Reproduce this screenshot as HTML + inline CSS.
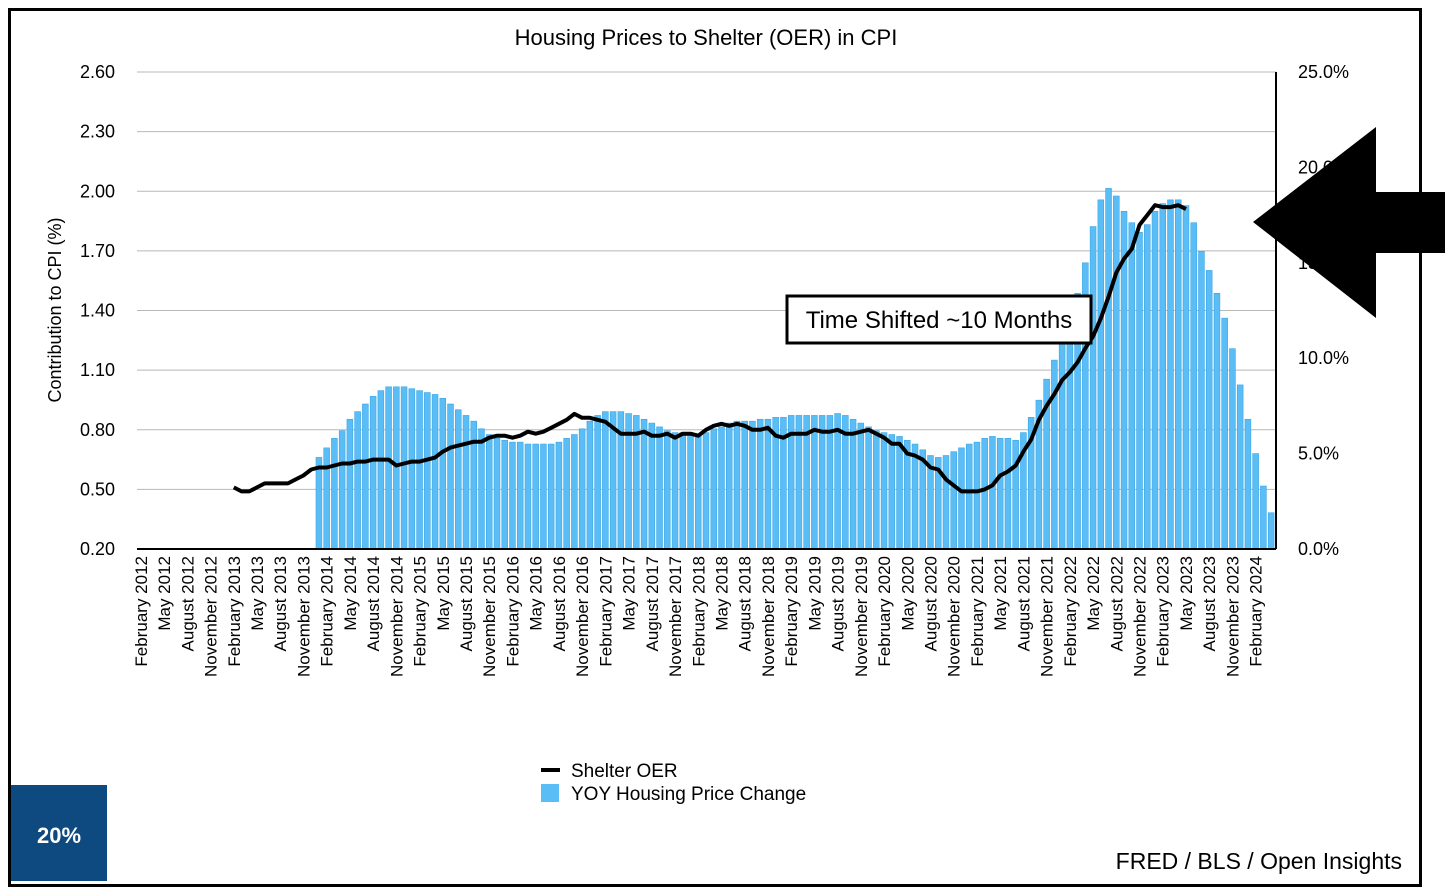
<!DOCTYPE html>
<html><head><meta charset="utf-8"><style>
html,body{margin:0;padding:0;background:#fff;}
svg{display:block;font-family:"Liberation Sans",Arial,sans-serif;}
</style></head><body>
<svg id="chart" width="1456" height="893" viewBox="0 0 1456 893" xmlns="http://www.w3.org/2000/svg">
<rect x="9.5" y="9.5" width="1411" height="876" fill="#fff" stroke="#000" stroke-width="3"/>
<text x="706" y="45" font-size="22" text-anchor="middle">Housing Prices to Shelter (OER) in CPI</text>
<g id="grid"></g>
<g id="bars"></g>
<g id="line"></g>
<g id="axes"></g>
<text transform="translate(61,310) rotate(-90)" font-size="18" text-anchor="middle">Contribution to CPI (%)</text>
<g>
<rect x="787" y="296" width="304" height="47" fill="#fff" stroke="#000" stroke-width="3"/>
<text x="939" y="328" font-size="24" text-anchor="middle">Time Shifted ~10 Months</text>
</g>
<polygon points="1253,222 1376,127 1376,192 1445,192 1445,253 1376,253 1376,318" fill="#000"/>
<g>
<line x1="541" y1="770" x2="560" y2="770" stroke="#000" stroke-width="4"/>
<text x="571" y="777" font-size="19">Shelter OER</text>
<rect x="541" y="784" width="18" height="18" fill="#5bbdf5"/>
<text x="571" y="800" font-size="19">YOY Housing Price Change</text>
</g>
<rect x="11" y="785" width="96" height="96" fill="#0e4a7f"/>
<text x="59" y="843" font-size="22" font-weight="bold" fill="#fff" text-anchor="middle">20%</text>
<text x="1402" y="869" font-size="23" text-anchor="end">FRED / BLS / Open Insights</text>
</svg>
<script>
const months = ["January","February","March","April","May","June","July","August","September","October","November","December"];
const startMonthIndex = 1; const startYear = 2012; const monthCount = 147;
const leftTicks = [0.20,0.50,0.80,1.10,1.40,1.70,2.00,2.30,2.60];
const rightTicks = [0,5,10,15,20,25];
const barStart = 23;
const barValues = [4.8,5.3,5.8,6.2,6.8,7.2,7.6,8.0,8.3,8.5,8.5,8.5,8.4,
8.3,8.2,8.1,7.9,7.6,7.3,7.0,6.7,6.3,6.0,5.8,5.7,
5.6,5.6,5.5,5.5,5.5,5.5,5.6,5.8,6.0,6.3,6.7,7.0,
7.2,7.2,7.2,7.1,7.0,6.8,6.6,6.4,6.2,6.1,6.1,6.0,
6.0,6.1,6.3,6.4,6.6,6.7,6.7,6.7,6.8,6.8,6.9,6.9,
7.0,7.0,7.0,7.0,7.0,7.0,7.1,7.0,6.8,6.6,6.4,6.2,
6.1,6.0,5.9,5.7,5.5,5.2,4.9,4.8,4.9,5.1,5.3,5.5,
5.6,5.8,5.9,5.8,5.8,5.7,6.1,6.9,7.8,8.9,9.9,11.0,
12.0,13.4,15.0,16.9,18.3,18.9,18.5,17.7,17.1,16.6,17.0,17.7,
18.1,18.3,18.3,18.0,17.1,15.6,14.6,13.4,12.1,10.5,8.6,6.8,5.0,3.3,1.9];
const lineStart = 12;
const lineValues = [0.51,0.49,0.49,0.51,0.53,0.53,0.53,0.53,0.55,0.57,0.60,
0.61,0.61,0.62,0.63,0.63,0.64,0.64,0.65,0.65,0.65,0.62,0.63,0.64,
0.64,0.65,0.66,0.69,0.71,0.72,0.73,0.74,0.74,0.76,0.77,0.77,
0.76,0.77,0.79,0.78,0.79,0.81,0.83,0.85,0.88,0.86,0.86,0.85,
0.84,0.81,0.78,0.78,0.78,0.79,0.77,0.77,0.78,0.76,0.78,0.78,
0.77,0.80,0.82,0.83,0.82,0.83,0.82,0.80,0.80,0.81,0.77,0.76,
0.78,0.78,0.78,0.80,0.79,0.79,0.80,0.78,0.78,0.79,0.80,0.78,
0.76,0.73,0.73,0.68,0.67,0.65,0.61,0.60,0.55,0.52,0.49,0.49,
0.49,0.50,0.52,0.57,0.59,0.62,0.69,0.75,0.85,0.92,0.98,1.05,
1.09,1.14,1.21,1.27,1.36,1.47,1.59,1.66,1.71,1.83,1.88,1.93,
1.92,1.92,1.93,1.91];

const NS="http://www.w3.org/2000/svg";
const X0=137, X1=1275, YT=72, YB=549;
const band=(X1-X0)/monthCount;
const xC=i=>X0+band*(i+0.5);
const yL=v=>YB-(v-0.2)/(2.6-0.2)*(YB-YT);
const yR=v=>YB-v/25*(YB-YT);
function mk(tag,attrs,parent){const e=document.createElementNS(NS,tag);for(const k in attrs)e.setAttribute(k,attrs[k]);parent.appendChild(e);return e;}
const grid=document.getElementById('grid'), axes=document.getElementById('axes');
leftTicks.forEach(t=>{
  const y=yL(t);
  if(t>0.2){const g=mk('line',{x1:X0,x2:X1+1,y1:y,y2:y,stroke:'#b8b8b8','stroke-width':1},grid);
  
  }
  const tx=mk('text',{x:115,y:y+6,'font-size':18,'text-anchor':'end'},axes);
  tx.textContent=t.toFixed(2);
  
  
});
rightTicks.forEach(t=>{
  const tx=mk('text',{x:1298,y:yR(t)+6,'font-size':18},axes);
  tx.textContent=t.toFixed(1)+'%';
  
  
});
const xa=mk('line',{x1:X0,x2:X1+1,y1:YB,y2:YB,stroke:'#000','stroke-width':2},axes);


const ra=mk('line',{x1:X1+1,x2:X1+1,y1:YT,y2:YB,stroke:'#000','stroke-width':2},axes);


for(let i=0;i<monthCount;i+=3){
  const m=(startMonthIndex+i)%12, yr=startYear+Math.floor((startMonthIndex+i)/12);
  const x=xC(i)+6;
  const tx=mk('text',{transform:`translate(${x},556) rotate(-90)`,'font-size':17,'text-anchor':'end'},axes);
  tx.textContent=months[m]+' '+yr;
  
  
}
const bars=document.getElementById('bars');
barValues.forEach((v,k)=>{
  const i=barStart+k, y=yR(v);
  const r=mk('rect',{x:xC(i)-band*0.38,y:y,width:band*0.76,height:YB-y,fill:'#5bbdf5',stroke:'#3aa6e6','stroke-width':0.6},bars);
  
  
});
const pts=lineValues.map((v,k)=>xC(lineStart+k).toFixed(1)+','+yL(v).toFixed(1)).join(' ');
const pl=mk('polyline',{points:pts,fill:'none',stroke:'#000','stroke-width':4,'stroke-linejoin':'round'},document.getElementById('line'));


</script>
</body></html>
